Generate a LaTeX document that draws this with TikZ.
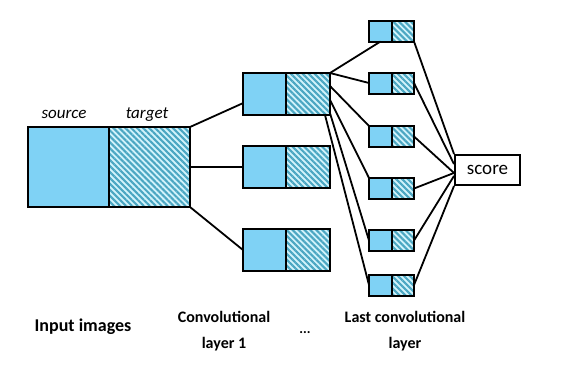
\documentclass[tikz,border=0pt]{standalone}
\usepackage{fontspec}
\setmainfont{Carlito}
\usetikzlibrary{positioning,patterns.meta}

\definecolor{srcblue}{HTML}{7FD2F5}
\definecolor{hatchbg}{HTML}{D2F3FB}
\definecolor{hatchblue}{HTML}{4AA6C2}

\tikzset{
  srcbox/.style={draw, line width=2.2pt, fill=srcblue, inner sep=0pt, outer sep=0pt},
  tgtbox/.style={draw, line width=2.2pt, inner sep=0pt, outer sep=0pt,
    preaction={fill=hatchbg},
    pattern={Lines[angle=-45, distance=4.2pt, line width=2.1pt]}, pattern color=hatchblue},
  conn/.style={line width=1.8pt},
  lbl/.style={font=\fontsize{16}{26}\selectfont\bfseries, align=center}
}

\begin{document}
\begin{tikzpicture}[x=1pt, y=-1pt]
    \useasboundingbox (0,0) rectangle (585,365);

    % input images
    \node[srcbox, minimum width=81pt, minimum height=80pt] (ins) at (68.5,167) {};
    \node[tgtbox, minimum width=81pt, minimum height=80pt, right=0pt of ins] (int) {};
    \node[font=\fontsize{17}{20}\selectfont\itshape] (srclbl) at (64,114) {source};
    \node[font=\fontsize{17}{20}\selectfont\itshape] (tgtlbl) at (147,115) {target};

    % convolutional layer 1
    \foreach \i/\y in {1/94, 2/167, 3/250} {
      \node[srcbox, minimum width=43pt, minimum height=42pt] (s\i) at (264.5,\y) {};
      \node[tgtbox, minimum width=44pt, minimum height=42pt, right=0pt of s\i] (t\i) {};
    }

    % last convolutional layer
    \foreach \i/\y in {1/31, 2/83, 3/136.5, 4/188.5, 5/240.5, 6/285} {
      \node[srcbox, line width=2pt, minimum width=23pt, minimum height=21pt] (ls\i) at (380.5,\y) {};
      \node[tgtbox, line width=2pt, minimum width=22pt, minimum height=21pt, right=0pt of ls\i] (lt\i) {};
    }

    \node[draw, line width=2pt, minimum width=65pt, minimum height=30pt, inner sep=0pt,
      font=\fontsize{19}{22}\selectfont] (score) at (487.5,170) {score};

    % input -> layer 1
    \draw[conn] (int.north east) -- (s1.203);
    \draw[conn] (int.east) -- (s2.west);
    \draw[conn] (int.south east) -- (s3.west);

    % layer 1 -> last layer
    \draw[conn] (t1.north east) -- (ls1.south);
    \draw[conn] (t1.north east) -- (ls2.west);
    \draw[conn] (t1.20) -- (ls3.north west);
    \draw[conn] (t1.-15) -- (ls4.north west);
    \draw[conn] (t1.-41) -- (ls5.west);
    \draw[conn] (t1.-51) -- (ls6.west);

    % last layer -> score
    \draw[conn] (lt1.south east) -- (score.north west);
    \draw[conn] (lt2.east) -- (score.170);
    \draw[conn] (lt3.east) -- (score.185);
    \draw[conn] (lt4.east) -- (score.185);
    \draw[conn] (lt5.east) -- (score.190);
    \draw[conn] (lt6.east) -- (score.south west);

    % captions
    \node[lbl, font=\fontsize{18}{22}\selectfont\bfseries] (cap1) at (83,327) {Input images};
    \node[lbl] (cap2) at (224,331) {Convolutional\\layer 1};
    \node[lbl, font=\fontsize{14}{16}\selectfont\bfseries] (dots) at (305,333) {...};
    \node[lbl] (cap3) at (405,331) {Last convolutional\\layer};
\end{tikzpicture}
\end{document}
